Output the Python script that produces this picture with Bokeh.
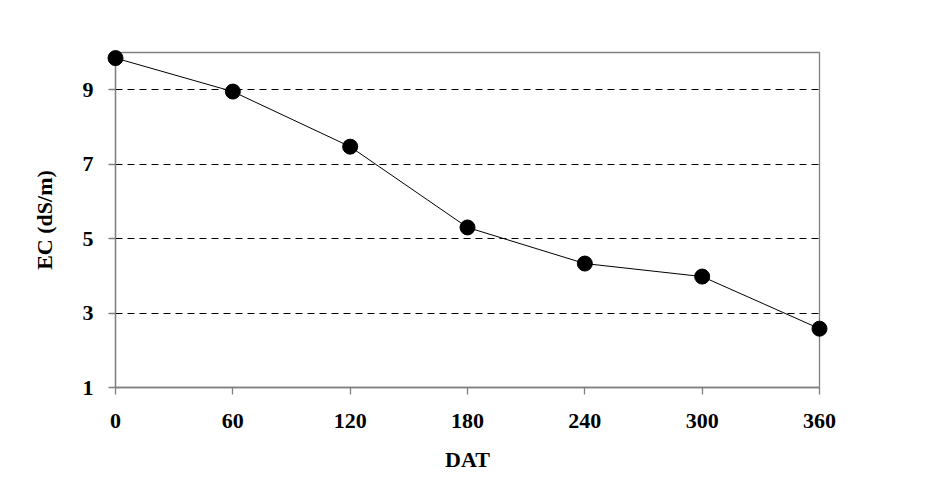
from bokeh.plotting import figure
from bokeh.models import FixedTicker, Range1d
from bokeh.embed import file_html
from bokeh.resources import INLINE

# Data
dat = [0, 60, 120, 180, 240, 300, 360]
ec = [9.85, 8.95, 7.47, 5.30, 4.33, 3.98, 2.58]
x_ticks = [0, 60, 120, 180, 240, 300, 360]
y_ticks = [1, 3, 5, 7, 9]
grid_ticks = [3, 5, 7, 9]

FONT = "Liberation Serif"

p = figure(width=947, height=482, output_backend="svg", toolbar_location=None,
           x_range=Range1d(0, 360), y_range=Range1d(1, 10),
           min_border_left=115, min_border_right=128, min_border_top=52, min_border_bottom=95)
p.background_fill_color = "white"
p.border_fill_color = "white"
p.outline_line_color = "#808080"
p.outline_line_width = 1.3

p.line(dat, ec, line_color="black", line_width=1, level="overlay")
p.scatter(dat, ec, size=15, fill_color="black", line_color="black", level="overlay")

p.xgrid.visible = False
p.ygrid.ticker = FixedTicker(ticks=grid_ticks)
p.ygrid.grid_line_color = "black"
p.ygrid.grid_line_dash = "7 5"
p.ygrid.grid_line_width = 1

for ax in (p.xaxis[0], p.yaxis[0]):
    ax.axis_line_color = "#808080"
    ax.axis_line_width = 1.3
    ax.major_tick_line_color = "#808080"
    ax.major_tick_line_width = 1.3
    ax.major_tick_out = 7
    ax.major_tick_in = 0
    ax.minor_tick_line_color = None
    ax.major_label_text_font = FONT
    ax.major_label_text_font_style = "bold"
    ax.major_label_text_font_size = "22px"
    ax.major_label_text_color = "black"
    ax.axis_label_text_font = FONT
    ax.axis_label_text_font_style = "bold"
    ax.axis_label_text_font_size = "22px"
    ax.axis_label_text_color = "black"

p.xaxis.ticker = FixedTicker(ticks=x_ticks)
p.yaxis.ticker = FixedTicker(ticks=y_ticks)
p.xaxis.axis_label = "DAT"
p.yaxis.axis_label = "EC (dS/m)"
p.xaxis.major_label_standoff = 19
p.xaxis.axis_label_standoff = 16
p.yaxis.major_label_standoff = 15
p.yaxis.axis_label_standoff = 23
p.yaxis.major_label_orientation = "horizontal"

open("out.html", "w").write(file_html(p, INLINE))
